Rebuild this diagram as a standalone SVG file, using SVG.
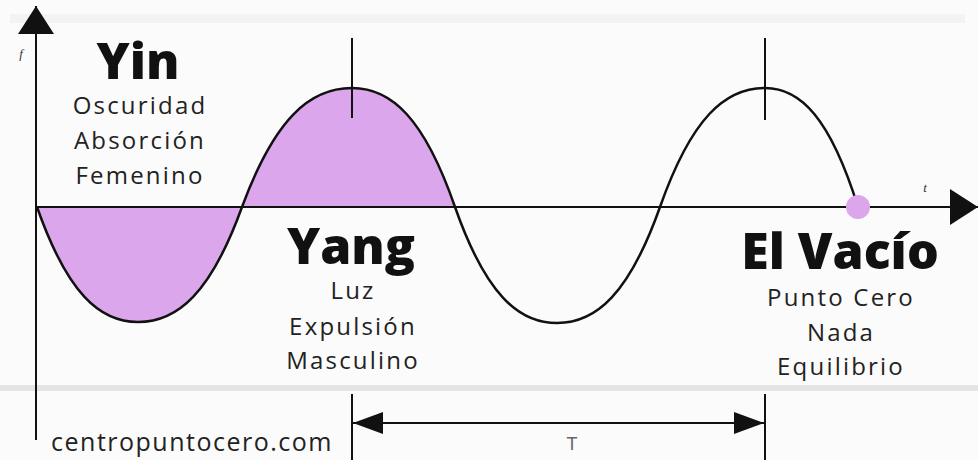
<svg xmlns="http://www.w3.org/2000/svg" width="978" height="460" viewBox="0 0 978 460">
<defs>
<style>
.title{font-family:"Open Sans","Liberation Sans",sans-serif;font-weight:800;font-size:50px;fill:#111;text-anchor:middle}
.sub{font-family:"Open Sans","Liberation Sans",sans-serif;font-size:24px;letter-spacing:2.2px;fill:#222;text-anchor:middle}
.credit{font-family:"Open Sans","Liberation Sans",sans-serif;font-size:25px;letter-spacing:1.5px;fill:#222;text-anchor:middle}
.small{font-family:"Liberation Serif",serif;font-size:13px;fill:#333;text-anchor:middle}
.ln{stroke:#111;fill:none}
.wave{stroke:#111;stroke-width:2.5;fill:none}
.fill{fill:#dca6ec;stroke:none}
</style>
<marker id="bigArrow" markerUnits="userSpaceOnUse" viewBox="0 0 28 36" refX="28" refY="18" markerWidth="28" markerHeight="36" orient="auto">
<path d="M0,0 L28,18 L0,36 z" fill="#111"/>
</marker>
<marker id="tArrow" markerUnits="userSpaceOnUse" viewBox="0 0 30 22" refX="30" refY="11" markerWidth="30" markerHeight="22" orient="auto-start-reverse">
<path d="M0,0 L30,11 L0,22 z" fill="#111"/>
</marker>
</defs>
<rect width="978" height="460" fill="#fbfbfb"/>
<rect x="10" y="14" width="955" height="9" fill="#f3f3f3"/>
<rect x="0" y="385" width="978" height="6" fill="#e4e4e4"/>

<g id="fills">
<path class="fill" d="M37,207 C67.3,293.3 99.6,322 138,322 C177.5,322 210.8,293.3 242,207 Z"/>
<path class="fill" d="M242,207 C275,117.7 310.2,88 352,88 C391.1,88 424.1,117.7 455,207 Z"/>
</g>

<g id="connectors">
<line class="ln" stroke-width="2" x1="36" y1="440" x2="36" y2="6" marker-end="url(#bigArrow)"/>
<line class="ln" stroke-width="2" x1="36" y1="207" x2="978" y2="207" marker-end="url(#bigArrow)"/>
<path class="wave" d="M37,207 C67.3,293.3 99.6,322 138,322 C177.5,322 210.8,293.3 242,207 C275,117.7 310.2,88 352,88 C391.1,88 424.1,117.7 455,207 C485.6,294 518.2,323 557,323 C596.1,323 629.1,294 660,207 C691.5,117.7 725.1,88 765,88 C800.3,88 830.1,117.7 858,207"/>
<line class="ln" stroke-width="2" x1="352" y1="38" x2="352" y2="118"/>
<line class="ln" stroke-width="2" x1="765" y1="38" x2="765" y2="120"/>
<line class="ln" stroke-width="2" x1="352" y1="394" x2="352" y2="460"/>
<line class="ln" stroke-width="2" x1="765" y1="394" x2="765" y2="460"/>
<line class="ln" stroke-width="2" x1="353" y1="423" x2="764" y2="423" marker-start="url(#tArrow)" marker-end="url(#tArrow)"/>
</g>

<g id="zero-point">
<circle cx="858" cy="207" r="12" fill="#dca6ec"/>
</g>

<g id="axis-labels">
<text class="small" x="21" y="58" font-style="italic">f</text>
<text class="small" x="925" y="192" font-style="italic">t</text>
<text x="572" y="450" font-family="'Liberation Sans',sans-serif" font-size="18" fill="#666" text-anchor="middle">T</text>
</g>

<g id="yin">
<text class="title" x="138" y="79">Yin</text>
<text class="sub" x="140" y="114">Oscuridad</text>
<text class="sub" x="140" y="149">Absorción</text>
<text class="sub" x="140" y="184">Femenino</text>
</g>

<g id="yang">
<text class="title" x="351" y="264">Yang</text>
<text class="sub" x="353" y="299">Luz</text>
<text class="sub" x="353" y="335">Expulsión</text>
<text class="sub" x="353" y="369">Masculino</text>
</g>

<g id="vacio">
<text class="title" x="840" y="269">El Vacío</text>
<text class="sub" x="841" y="306">Punto Cero</text>
<text class="sub" x="841" y="341">Nada</text>
<text class="sub" x="841" y="375">Equilibrio</text>
</g>

<g id="credit">
<text class="credit" x="192" y="451">centropuntocero.com</text>
</g>
</svg>
